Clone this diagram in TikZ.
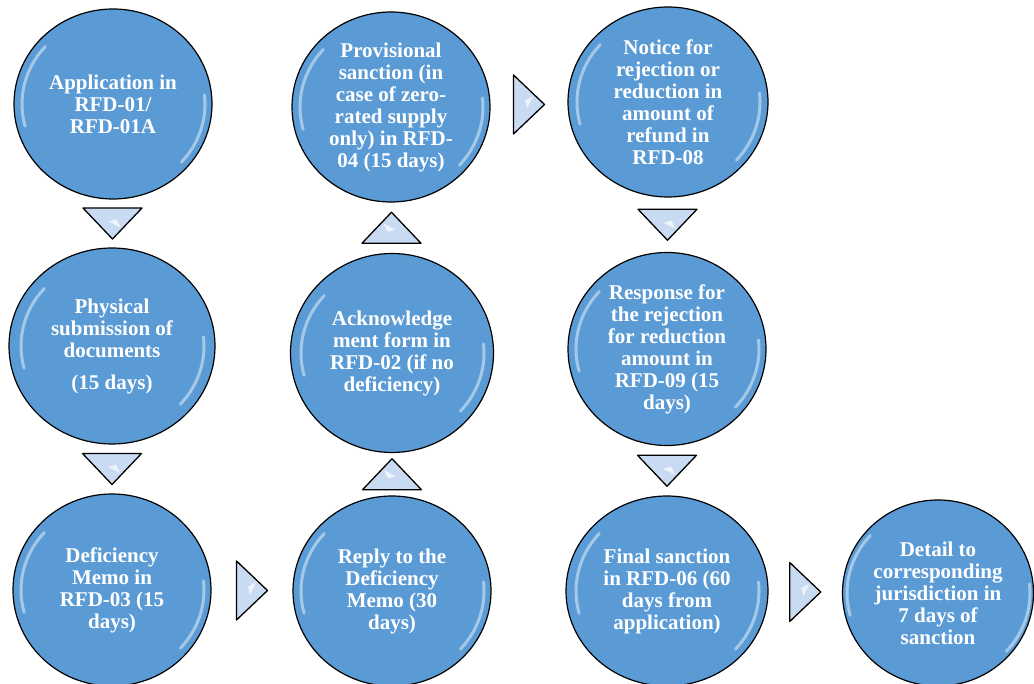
\documentclass[tikz,border=0pt]{standalone}
\usepackage{fontspec}
\setmainfont{Liberation Serif}
\usetikzlibrary{shapes.geometric,calc}
\definecolor{bub}{RGB}{91,155,213}
\definecolor{trif}{RGB}{200,219,242}
\begin{document}
\begin{tikzpicture}[x=1pt,y=-1pt,
  bubble/.style={ellipse, draw=black, line width=1.2pt, fill=bub, inner sep=0pt,
    minimum width=198pt, minimum height=190pt, text=white, align=center,
    font=\bfseries\fontsize{21}{22}\selectfont},
  glossline/.style={white, opacity=.45, line width=3pt, line cap=round},
  tri/.pic={
    \draw[line width=1.3pt, fill=trif, line join=round] (-15.5,-29.5) -- (15.5,0) -- (-15.5,29.5) -- cycle;
    \fill[white, opacity=.7] (-4,-4) -- (4,-8) -- (-2,4) -- cycle;
  }]
\useasboundingbox (0,0) rectangle (1034,684);
\fill[white] (0,0) rectangle (1034,684);

\node[bubble] (c1) at (113,104) {Application in\\RFD-01/\\RFD-01A};
\node[bubble, minimum width=206pt, minimum height=196pt] (c2) at (112,346) {Physical\\submission of\\documents\\[10pt](15 days)};
\node[bubble, minimum height=192pt] (c3) at (112,590) {Deficiency\\Memo in\\RFD-03 (15\\days)};
\node[bubble, minimum height=190pt] (c4) at (392,591) {Reply to the\\Deficiency\\Memo (30\\days)};
\node[bubble, minimum width=203pt, minimum height=199pt] (c5) at (392,353) {Acknowledge\\ment form in\\RFD-02 (if no\\deficiency)};
\node[bubble] (c6) at (391,107) {Provisional\\sanction (in\\case of zero-\\rated supply\\only) in RFD-\\04 (15 days)};
\node[bubble, minimum width=200pt] (c7) at (668,102) {Notice for\\rejection or\\reduction in\\amount of\\refund in\\RFD-08};
\node[bubble, minimum height=193pt] (c8) at (667,349) {Response for\\the rejection\\for reduction\\amount in\\RFD-09 (15\\days)};
\node[bubble, minimum width=202pt] (c9) at (667,591) {Final sanction\\in RFD-06 (60\\days from\\application)};
\node[bubble, minimum width=191pt, minimum height=186pt] (c10) at (938,593) {Detail to\\corresponding\\jurisdiction in\\7 days of\\sanction};

% gloss highlights
\foreach \n in {c1,c2,c3,c4,c5,c6,c7,c8,c9,c10}{
  \draw[glossline] ($(\n.center)+(-138:91 and 86)$) arc[start angle=-138, end angle=-195, x radius=91, y radius=86];
  \draw[glossline] ($(\n.center)+(42:92 and 87)$) arc[start angle=42, end angle=-6, x radius=92, y radius=87];
}

% triangles between bubbles
\path ($(c1.south)!.5!(c2.north)$) pic[rotate=-90]{tri};
\path ($(c2.south)!.5!(c3.north)$) pic[rotate=-90]{tri};
\path ($(c3.east)!.5!(c4.west)$) pic{tri};
\path ($(c4.north)!.5!(c5.south)$) pic[rotate=90]{tri};
\path ($(c5.north)!.5!(c6.south)$) pic[rotate=90]{tri};
\path ($(c6.east)!.5!(c7.west)$) pic{tri};
\path ($(c7.south)!.5!(c8.north)$) pic[rotate=-90]{tri};
\path ($(c8.south)!.5!(c9.north)$) pic[rotate=-90]{tri};
\path ($(c9.east)!.5!(c10.west)$) pic{tri};
\end{tikzpicture}
\end{document}
